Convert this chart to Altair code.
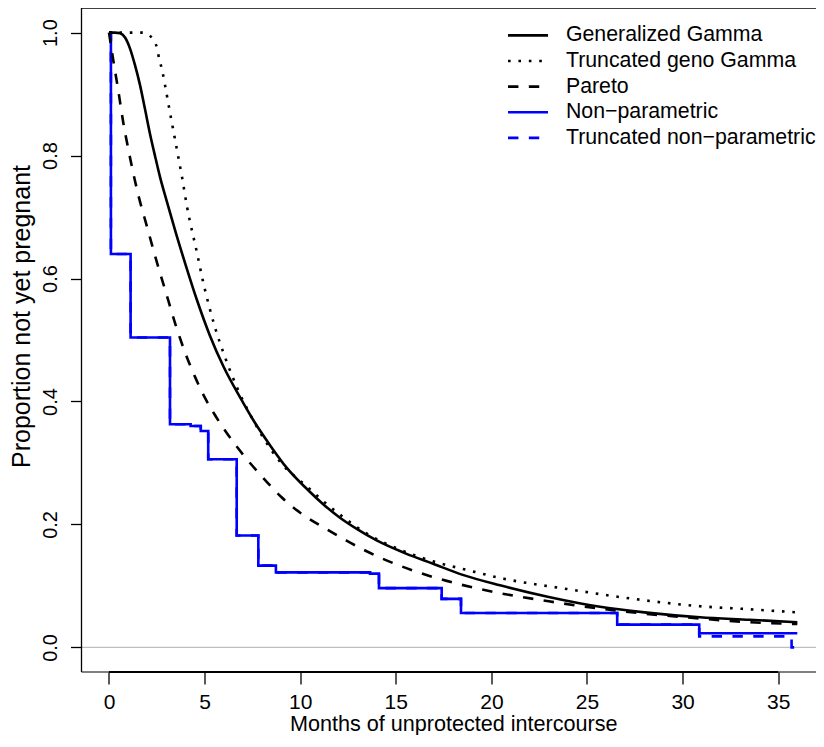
import altair as alt
import pandas as pd

# ---------------- data ----------------
# Generalized Gamma (solid black)
gg_x = [0, 0.3, 0.58, 0.84, 1.1, 1.36, 1.62, 1.88, 2.14, 2.41, 2.67, 3.02, 3.5, 4.06, 4.6, 5.28,
        6.0, 6.85, 7.6, 8.42, 9.3, 10.34, 11.2, 12.08, 13.0, 14.0, 15.5, 16.95, 18.5, 20.45,
        23.0, 25.68, 28.0, 30.91, 33.5, 36.0]
gg_y = [1.0, 1.0, 0.999, 0.992, 0.974, 0.947, 0.915, 0.876, 0.836, 0.799, 0.765, 0.726, 0.674,
        0.617, 0.565, 0.507, 0.456, 0.407, 0.367, 0.329, 0.292, 0.258, 0.233, 0.211, 0.192, 0.174,
        0.153, 0.136, 0.118, 0.101, 0.082, 0.066, 0.057, 0.049, 0.045, 0.041]

# Truncated geno Gamma (dotted black)
tg_x = [0, 1.0, 1.73, 2.0, 2.25, 2.51, 2.62, 2.77, 2.98, 3.19, 3.4, 3.61, 3.82, 4.08, 4.6, 4.92,
        5.54, 6.07, 6.69, 7.48, 8.05, 9.0, 10.34, 11.2, 12.08, 13.49, 15.22, 16.95, 18.72, 20.45,
        23.95, 27.41, 30.91, 33.5, 36.0]
tg_y = [1.0, 1.0, 1.0, 0.998, 0.991, 0.975, 0.958, 0.94, 0.906, 0.87, 0.835, 0.8, 0.765, 0.717,
        0.642, 0.595, 0.521, 0.472, 0.423, 0.373, 0.342, 0.3, 0.262, 0.238, 0.216, 0.185, 0.159,
        0.14, 0.126, 0.113, 0.095, 0.079, 0.067, 0.062, 0.057]

# Pareto (dashed black)
pa_x = [0, 0.25, 0.5, 0.75, 1.0, 1.5, 2.0, 2.5, 3.0, 3.5, 4.0, 4.5, 5.0, 5.5, 6.0, 7.0, 8.0, 9.0,
        10.0, 11.4, 12.4, 13.5, 15.2, 17.0, 20.0, 23.0, 25.7, 28.0, 30.9, 33.5, 36.0]
pa_y = [1.0, 0.95, 0.903, 0.853, 0.812, 0.74, 0.683, 0.627, 0.575, 0.523, 0.478, 0.44, 0.407, 0.38,
        0.356, 0.314, 0.278, 0.245, 0.219, 0.192, 0.174, 0.156, 0.133, 0.114, 0.091, 0.075, 0.063,
        0.055, 0.047, 0.041, 0.038]

# Non-parametric (blue step)
np_x = [0, 0.1, 1.13, 3.19, 4.27, 4.8, 5.19, 6.68, 7.81, 8.73, 13.65, 14.12, 17.4, 18.41, 26.58,
        30.87, 36.0]
np_y = [1.0, 0.64, 0.504, 0.363, 0.36, 0.352, 0.306, 0.182, 0.133, 0.122, 0.12, 0.0965, 0.079,
        0.056, 0.037, 0.023, 0.023]

# Truncated non-parametric (blue dashed step)
tn_x = [0, 0.1, 1.13, 3.19, 4.27, 4.8, 5.19, 6.68, 7.81, 8.73, 13.65, 14.12, 17.4, 18.41, 26.58,
        30.87, 35.7, 36.0]
tn_y = [1.0, 0.64, 0.504, 0.363, 0.36, 0.352, 0.306, 0.182, 0.133, 0.122, 0.12, 0.0965, 0.079,
        0.056, 0.037, 0.018, 0.0, 0.0]

legend_labels = ["Generalized Gamma", "Truncated geno Gamma", "Pareto",
                 "Non\u2212parametric", "Truncated non\u2212parametric"]
x_ticks = [0, 5, 10, 15, 20, 25, 30, 35]
y_ticks = [0.0, 0.2, 0.4, 0.6, 0.8, 1.0]

# ---------------- styling ----------------
FONT = "Liberation Sans"
W, H = 734.5, 664
PX_PER_UNIT = 19.12
XMIN = -1.438
XMAX = XMIN + W / PX_PER_UNIT          # plot runs off the right edge like the reference
YMIN, YMAX = -0.04, 1.04
LW = 2.6
BLUE = "#0000ff"
DASH = [10.4, 10.4]
DOT = [2.6, 7.8]

xscale = alt.Scale(domain=[XMIN, XMAX], nice=False, zero=False)
yscale = alt.Scale(domain=[YMIN, YMAX], nice=False, zero=False)

xaxis = alt.Axis(values=x_ticks, domain=False, grid=False, tickSize=12, tickWidth=1.3,
                 tickColor="black", labelFont=FONT, labelFontSize=21, labelColor="black",
                 labelPadding=7.5, labelBaseline="top", labelFlush=False,
                 title="Months of unprotected intercourse", titleFont=FONT, titleFontSize=21.6,
                 titleFontWeight="normal", titleColor="black",
                 titleX=(81.5 + 825) / 2 - 81.5, titleY=58.5,
                 titleBaseline="alphabetic", titleAlign="center")
yaxis = alt.Axis(values=y_ticks, format=".1f", domain=False, grid=False, tickSize=11,
                 tickWidth=1.3, tickColor="black", labelFont=FONT, labelFontSize=20,
                 labelColor="black", labelAngle=-90, labelAlign="center",
                 labelBaseline="alphabetic", labelPadding=14.5, labelFlush=False,
                 title="Proportion not yet pregnant", titleFont=FONT, titleFontSize=25,
                 titleFontWeight="normal", titleColor="black", titleAngle=-90,
                 titleX=-52.5, titleY=308, titleAlign="center", titleBaseline="alphabetic")

X = lambda: alt.X("x:Q", scale=xscale, axis=xaxis)
Y = lambda: alt.Y("y:Q", scale=yscale, axis=yaxis)


def series(xs, ys, color, dash=None, interp="linear"):
    df = pd.DataFrame({"x": xs, "y": ys})
    props = dict(color=color, strokeWidth=LW, interpolate=interp, strokeCap="butt")
    if dash is not None:
        props["strokeDash"] = dash
    return alt.Chart(df).mark_line(**props).encode(x=X(), y=Y())


dummy = pd.DataFrame({"x": [0]})

# zero reference line (grey)
zero_line = alt.Chart(dummy).mark_rule(color="#bebebe", strokeWidth=1.2).encode(
    x=alt.datum(XMIN, scale=xscale), x2=alt.datum(XMAX), y=alt.datum(0.0, scale=yscale))

# frame (top, left, bottom)
frame_top = alt.Chart(dummy).mark_rule(color="black", strokeWidth=1.3).encode(
    x=alt.datum(XMIN, scale=xscale), x2=alt.datum(XMAX), y=alt.datum(YMAX, scale=yscale))
frame_bottom = alt.Chart(dummy).mark_rule(color="black", strokeWidth=1.1).encode(
    x=alt.datum(XMIN, scale=xscale), x2=alt.datum(XMAX), y=alt.datum(YMIN, scale=yscale))
frame_left = alt.Chart(dummy).mark_rule(color="black", strokeWidth=1.3).encode(
    x=alt.datum(XMIN, scale=xscale), y=alt.datum(YMIN, scale=yscale), y2=alt.datum(YMAX))
# x axis line from first to last tick
x_axis_line = alt.Chart(dummy).mark_rule(color="black", strokeWidth=2.2).encode(
    x=alt.datum(x_ticks[0], scale=xscale), x2=alt.datum(x_ticks[-1]),
    y=alt.datum(YMIN, scale=yscale))

layers = [
    zero_line,
    series(tn_x, tn_y, BLUE, DASH, "step-after"),
    series(np_x, np_y, BLUE, None, "step-after"),
    series(pa_x, pa_y, "black", DASH, "monotone"),
    series(tg_x, tg_y, "black", DOT, "monotone"),
    series(gg_x, gg_y, "black", None, "monotone"),
]

# legend (drawn manually, R style)
LEG_X1, LEG_X2, LEG_TX = 20.87, 22.96, 23.9
LEG_Y0, LEG_DY = 0.9955, 0.0417
leg_styles = [("black", None), ("black", DOT), ("black", DASH), (BLUE, None), (BLUE, DASH)]
for i, (lab, (col, dash)) in enumerate(zip(legend_labels, leg_styles)):
    yy = LEG_Y0 - i * LEG_DY
    props = dict(color=col, strokeWidth=LW, strokeCap="butt")
    if dash is not None:
        props["strokeDash"] = dash
    layers.append(alt.Chart(dummy).mark_rule(**props).encode(
        x=alt.datum(LEG_X1, scale=xscale), x2=alt.datum(LEG_X2),
        y=alt.datum(yy, scale=yscale)))
    layers.append(alt.Chart(pd.DataFrame({"t": [lab]})).mark_text(
        font=FONT, fontSize=21.3, color="black", align="left", baseline="middle").encode(
        x=alt.datum(LEG_TX, scale=xscale), y=alt.datum(yy, scale=yscale), text="t:N"))

layers += [frame_top, frame_bottom, frame_left, x_axis_line]

chart = alt.layer(*layers).properties(
    width=W, height=H,
    autosize=alt.AutoSizeParams(type="none"),
    padding={"left": 73.5, "top": 0, "right": 0, "bottom": 63},
    background="white",
).configure_view(stroke=None)

chart.save("out.html", embed_options={"renderer": "svg", "actions": False})
